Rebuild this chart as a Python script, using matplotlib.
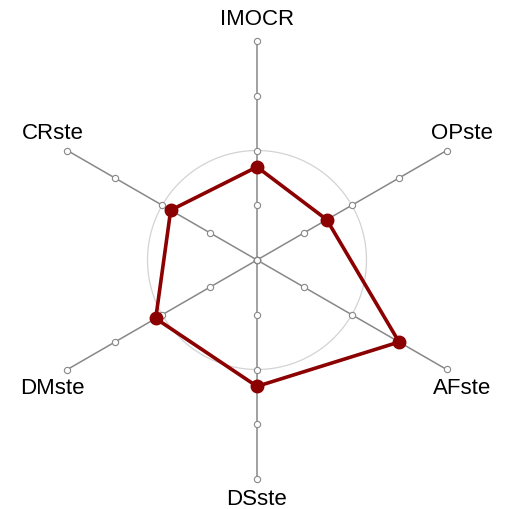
import numpy as np
import matplotlib.pyplot as plt

labels = ["IMOCR", "OPste", "AFste", "DSste", "DMste", "CRste"]
values = [0.425, 0.368, 0.749, 0.577, 0.534, 0.455]
ticks = [0, 0.25, 0.5, 0.75, 1.0]
ref_level = 0.5

n = len(labels)
angles = np.linspace(0, 2 * np.pi, n, endpoint=False)

fig = plt.figure(figsize=(5.07, 5.10), dpi=100)
cx, cy = 257 / 507, 1 - 261 / 510
rw, rh = 219 / 507, 219 / 510
ax = fig.add_axes([cx - rw, cy - rh, 2 * rw, 2 * rh], projection="polar")
ax.set_theta_offset(np.pi / 2)
ax.set_theta_direction(-1)
ax.set_ylim(0, 1)
ax.axis("off")

# reference circle
th = np.linspace(0, 2 * np.pi, 400)
ax.plot(th, np.full_like(th, ref_level), color="#d3d3d3", lw=0.9, zorder=1)

# spokes with tick circles
for a in angles:
    ax.plot([a, a], [0, 1], color="#888888", lw=1.1, zorder=2, clip_on=False)
    ax.plot(np.full(len(ticks), a), ticks, "o", ms=4.5, mfc="white",
            mec="#888888", mew=0.8, zorder=3, clip_on=False)

# data polygon
va = np.append(angles, angles[0])
vv = np.append(values, values[0])
ax.plot(va, vv, color="#8b0000", lw=2.6, zorder=4)
ax.plot(angles, values, "o", ms=9, color="#8b0000", zorder=5)

for a, lab in zip(angles, labels):
    sx, cy_ = np.sin(a), np.cos(a)
    if abs(sx) < 1e-6:
        dx, dy = 0, (1 if cy_ > 0 else 2)
    else:
        dx, dy = -4 * np.sign(sx), 7 * np.sign(cy_)
    ax.annotate(lab, (a, 1.1), xytext=(dx, dy), textcoords="offset pixels",
                ha="center", va="center", fontsize=16,
                family="Liberation Sans", annotation_clip=False)

fig.savefig("out.png", dpi=100)
